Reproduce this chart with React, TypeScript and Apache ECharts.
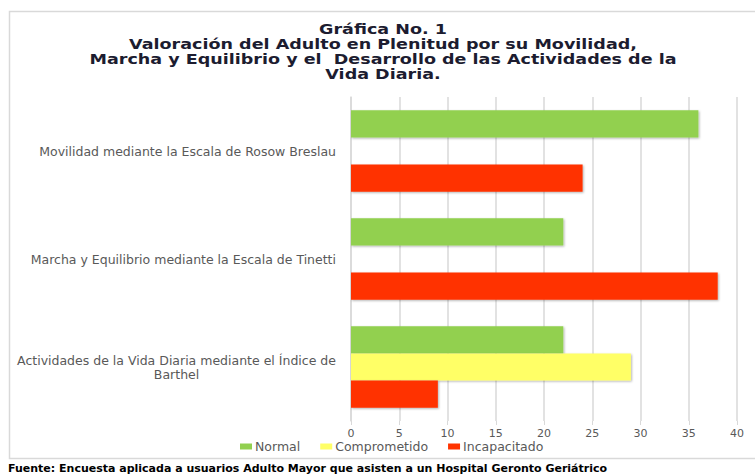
import React, { useEffect, useRef } from "react";
import * as echarts from "echarts";

const titleLines = [
  "Gráfica No. 1",
  "Valoración del Adulto en Plenitud por su Movilidad,",
  "Marcha y Equilibrio y el  Desarrollo de las Actividades de la",
  "Vida Diaria.",
];
const categories = [
  "Movilidad mediante la Escala de Rosow Breslau",
  "Marcha y Equilibrio mediante la Escala de Tinetti",
  "Actividades de la Vida Diaria mediante el Índice de Barthel",
];
const seriesNames = ["Normal", "Comprometido", "Incapacitado"];
const normal = [36, 22, 22];
const comprometido: (number | null)[] = [null, null, 29];
const incapacitado = [24, 38, 9];
const xMin = 0;
const xMax = 40;
const xInterval = 5;
const footer =
  "Fuente: Encuesta aplicada a usuarios Adulto Mayor que asisten a un Hospital Geronto Geriátrico";

const colors = ["#92D050", "#FFFF66", "#FF3300"];
const FONT = "DejaVu Sans";
const LABEL_SIZE = 12.5;

export default function App() {
  const ref = useRef<HTMLDivElement>(null);
  useEffect(() => {
    if (!ref.current) return;
    const chart = echarts.init(ref.current, undefined, { renderer: "svg" });
    const shadow = {
      shadowColor: "rgba(0,0,0,0.3)",
      shadowBlur: 2,
      shadowOffsetX: 1,
      shadowOffsetY: 1,
    };
    const data = [normal, comprometido, incapacitado];
    const titleGraphics = titleLines.map((line, i) => ({
      type: "text",
      x: 383,
      y: 29.5 + i * 14.8,
      scaleX: 1.3,
      style: {
        text: line,
        fontFamily: FONT,
        fontWeight: "bold",
        fontSize: 13.5,
        fill: "#1c1c30",
        align: "center",
        verticalAlign: "middle",
      },
    }));
    chart.setOption({
      animation: false,
      backgroundColor: "#ffffff",
      legend: {
        data: seriesNames,
        left: 240,
        top: 440,
        padding: 0,
        icon: "rect",
        itemWidth: 12,
        itemHeight: 6,
        itemGap: 20,
        textStyle: { fontFamily: FONT, fontSize: 12.5, color: "#595959", padding: [0, 0, 0, -2] },
      },
      grid: { left: 351, right: 18, top: 97, bottom: 55, containLabel: false },
      xAxis: {
        type: "value",
        min: xMin,
        max: xMax,
        interval: xInterval,
        axisLine: { show: false },
        axisTick: { show: true, length: 4, lineStyle: { color: "#d9d9d9" } },
        splitLine: { show: true, lineStyle: { color: "#d9d9d9", width: 1.5 } },
        axisLabel: {
          fontFamily: FONT,
          fontSize: 11,
          color: "#595959",
          margin: 7,
        },
      },
      yAxis: {
        type: "category",
        data: categories,
        inverse: true,
        axisLine: { show: true, lineStyle: { color: "#d9d9d9", width: 1.5 } },
        axisTick: { show: false },
        splitLine: { show: false },
        axisLabel: {
          fontFamily: FONT,
          fontSize: LABEL_SIZE,
          color: "#595959",
          margin: 15,
          formatter: (v: string) => {
            if (v === categories[2]) {
              return "{a|Actividades de la Vida Diaria mediante el Índice de}\n{b|Barthel}";
            }
            return v;
          },
          rich: {
            a: { fontFamily: FONT, fontSize: LABEL_SIZE, color: "#595959", lineHeight: 14 },
            b: {
              fontFamily: FONT,
              fontSize: LABEL_SIZE,
              color: "#595959",
              lineHeight: 14,
              width: 318,
              align: "center",
            },
          },
        },
      },
      series: seriesNames.map((name, i) => ({
        name,
        type: "bar",
        data: data[i],
        barGap: "0%",
        barCategoryGap: "24.5%",
        itemStyle: { color: colors[i], ...shadow },
      })),
      graphic: [
        {
          type: "rect",
          shape: { x: 9.5, y: 11.5, width: 800, height: 447 },
          style: { fill: "none", stroke: "#d9d9d9", lineWidth: 1.5 },
          silent: true,
        },
        ...titleGraphics,
        {
          type: "text",
          left: 8,
          top: 463,
          style: {
            text: footer,
            fontFamily: FONT,
            fontWeight: "bold",
            fontSize: 11,
            fill: "#000000",
          },
        },
      ],
    });
    return () => chart.dispose();
  }, []);
  return (
    <div
      ref={ref}
      style={{ position: "fixed", left: 0, top: 0, width: 755, height: 476 }}
    />
  );
}
